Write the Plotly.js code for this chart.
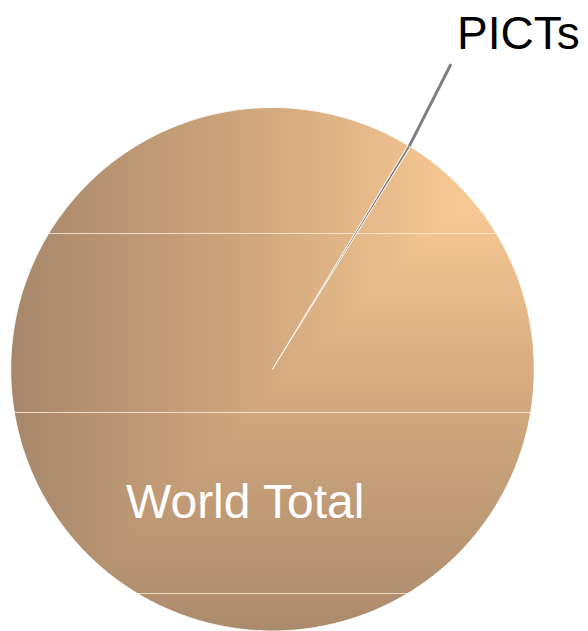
<!DOCTYPE html>
<html>
<head>
<meta charset="utf-8">
<script src="https://cdn.plot.ly/plotly-3.0.1.min.js"></script>
<style>html,body{margin:0;padding:0;background:#fff;}#chart{width:588px;height:631px;}</style>
</head>
<body>
<div id="chart"></div>
<script>
// Data (shares of the world total, %)
const labels = ["PICTs", "World Total"];
const values = [0.18, 99.82];
const sliceColors = ["#808080", "#d2a97e"];

const W = 588, H = 631;
const total = values.reduce((a, b) => a + b, 0);
const midAngle = 31.5; // degrees clockwise from 12 o'clock where PICTs sits
const rotation = midAngle - (values[0] / total) * 360 / 2;

const dom = {x: [10 / W, 535 / W], y: [0, 523.5 / H]};

const trace = {
  type: "pie",
  labels: labels,
  values: values,
  sort: false,
  direction: "clockwise",
  rotation: rotation,
  textinfo: "none",
  hoverinfo: "label+percent",
  marker: {colors: sliceColors, line: {color: "#ffffff", width: 0.8}},
  domain: dom,
  showlegend: false
};

// geometry of the pie in pixels (from domain)
const dw = (dom.x[1] - dom.x[0]) * W, dh = (dom.y[1] - dom.y[0]) * H;
const R = Math.min(dw, dh) / 2;
const cx = (dom.x[0] + dom.x[1]) / 2 * W;
const cy = H - (dom.y[0] + dom.y[1]) / 2 * H;
const th = midAngle * Math.PI / 180;
const ex = cx + R * Math.sin(th), ey = cy - R * Math.cos(th);
const lx = 451, ly = 64;

const layout = {
  width: W, height: H,
  margin: {l: 0, r: 0, t: 0, b: 0},
  paper_bgcolor: "#ffffff",
  plot_bgcolor: "#ffffff",
  font: {family: "Liberation Sans, Arial, sans-serif"},
  shapes: [{
    type: "line", xref: "paper", yref: "paper",
    x0: ex / W, y0: 1 - ey / H, x1: lx / W, y1: 1 - ly / H,
    line: {color: "#808080", width: 3}
  }],
  annotations: [
    {text: labels[1], xref: "paper", yref: "paper", x: 245 / W, y: 1 - 501 / H,
     xanchor: "center", yanchor: "middle", showarrow: false,
     font: {size: 48, color: "#ffffff", family: "Liberation Sans, Arial, sans-serif"}},
    {text: labels[0], xref: "paper", yref: "paper", x: 518.5 / W, y: 1 - 33 / H,
     xanchor: "center", yanchor: "middle", showarrow: false,
     font: {size: 46, color: "#000000", family: "Liberation Sans, Arial, sans-serif"}}
  ]
};

function hex(c) { return [parseInt(c.slice(1, 3), 16), parseInt(c.slice(3, 5), 16), parseInt(c.slice(5, 7), 16)]; }

function makeFill() {
  const cv = document.createElement("canvas");
  cv.width = W; cv.height = H;
  const ctx = cv.getContext("2d");
  const img = ctx.createImageData(W, H);
  const stops = [[0, hex("#f9c994")], [200, hex("#d2a97e")], [460, hex("#a6866a")]];
  const fx = 465, fy = 200;
  for (let y = 0; y < H; y++) {
    for (let x = 0; x < W; x++) {
      let d = Math.max(Math.abs(x - fx), Math.abs(y - fy));
      let c;
      if (d <= stops[1][0]) {
        const t = d / stops[1][0];
        c = stops[0][1].map((v, i) => v + t * (stops[1][1][i] - v));
      } else {
        const t = Math.min(1, (d - stops[1][0]) / (stops[2][0] - stops[1][0]));
        c = stops[1][1].map((v, i) => v + t * (stops[2][1][i] - v));
      }
      const k = (y * W + x) * 4;
      img.data[k] = c[0]; img.data[k + 1] = c[1]; img.data[k + 2] = c[2]; img.data[k + 3] = 255;
    }
  }
  ctx.putImageData(img, 0, 0);
  ctx.fillStyle = "rgba(252,234,214,0.85)";
  [233, 412, 593].forEach(yy => ctx.fillRect(0, yy, W, 1));
  return cv.toDataURL("image/png");
}

Plotly.newPlot("chart", [trace], layout, {displayModeBar: false, staticPlot: true}).then(gd => {
  const paths = gd.querySelectorAll(".pielayer .slice path.surface");
  const svg = gd.querySelector("svg.main-svg");
  const NS = "http://www.w3.org/2000/svg";
  const url = makeFill();
  paths.forEach((p, i) => {
    if (i !== 1) return;
    const m = p.getCTM();
    let defs = svg.querySelector("defs") || svg.insertBefore(document.createElementNS(NS, "defs"), svg.firstChild);
    const pat = document.createElementNS(NS, "pattern");
    pat.setAttribute("id", "worldfill");
    pat.setAttribute("patternUnits", "userSpaceOnUse");
    pat.setAttribute("x", -m.e); pat.setAttribute("y", -m.f);
    pat.setAttribute("width", W); pat.setAttribute("height", H);
    const im = document.createElementNS(NS, "image");
    im.setAttribute("x", 0); im.setAttribute("y", 0);
    im.setAttribute("width", W); im.setAttribute("height", H);
    im.setAttribute("preserveAspectRatio", "none");
    im.setAttribute("href", url);
    pat.appendChild(im);
    defs.appendChild(pat);
    p.style.fill = "url(#worldfill)";
  });
});
</script>
</body>
</html>
